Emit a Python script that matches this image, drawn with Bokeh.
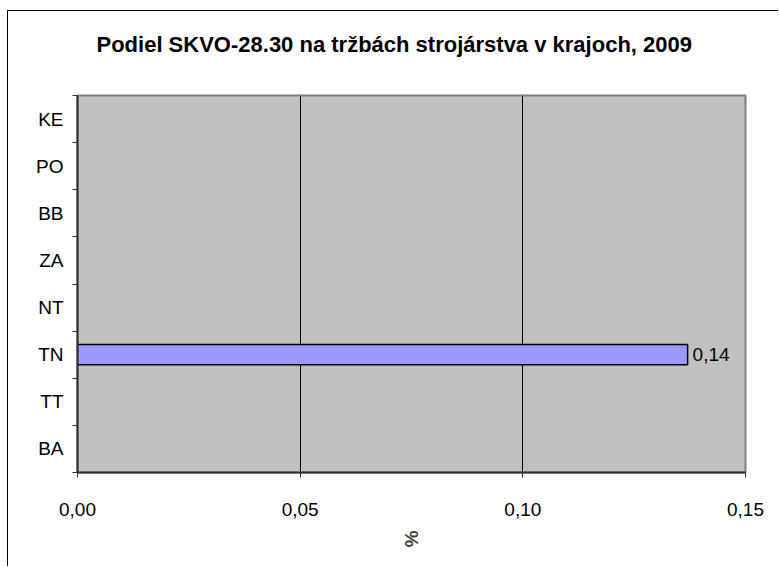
from bokeh.plotting import figure
from bokeh.models import ColumnDataSource, FixedTicker, LabelSet, Title
from bokeh.core.properties import value
from bokeh.embed import file_html
from bokeh.resources import INLINE

# ---- data ----
regions = ["BA", "TT", "TN", "NT", "ZA", "BB", "PO", "KE"]
shares = [0.0, 0.0, 0.137, 0.0, 0.0, 0.0, 0.0, 0.0]
x_ticks = [0.0, 0.05, 0.10, 0.15]
x_tick_labels = ["0,00", "0,05", "0,10", "0,15"]
title_text = "Podiel SKVO-28.30 na tržbách strojárstva v krajoch, 2009"
x_label = "%"

ypos = [i + 0.5 for i in range(len(regions))]
bars = ColumnDataSource(dict(
    y=[y for y, v in zip(ypos, shares) if v > 0],
    v=[v for v in shares if v > 0],
    lab=[("%.2f" % v).replace(".", ",") for v in shares if v > 0],
))

FONT = "Liberation Sans"

p = figure(
    output_backend="svg", toolbar_location=None,
    frame_width=668, frame_height=377,
    min_border_left=69, min_border_right=33,
    min_border_top=84, min_border_bottom=94,
    x_range=(x_ticks[0], x_ticks[-1]), y_range=(0, len(regions)),
    background_fill_color="#C0C0C0", border_fill_color="white",
    outline_line_color="#808080", outline_line_width=2,
)
p.styles = {"margin-left": "7px", "margin-top": "10px",
            "border-left": "1px solid black", "border-top": "1px solid black"}

# spacer between title and plot frame (closest to frame)
spacer = Title(text=" ", text_font_size="1px", standoff=36)
p.add_layout(spacer, "above")
t = Title(text=title_text, align="left", offset=19, text_font=FONT,
          text_font_size="22px", text_font_style="bold", text_color="black",
          standoff=0)
p.add_layout(t, "above")

p.hbar(y="y", right="v", left=0, height=0.43, source=bars,
       fill_color="#9999FF", line_color="black", line_width=1.5)

p.add_layout(LabelSet(x="v", y="y", text="lab", source=bars, x_offset=5,
                      text_baseline="middle", text_font=value(FONT),
                      text_font_size="19px", text_color="black"))

# grid
p.ygrid.grid_line_color = None
p.xgrid.ticker = FixedTicker(ticks=x_ticks)
p.xgrid.grid_line_color = "black"
p.xgrid.grid_line_width = 1

# x axis
p.xaxis.ticker = FixedTicker(ticks=x_ticks)
p.xaxis.major_label_overrides = {k: v for k, v in zip(x_ticks, x_tick_labels)}
p.xaxis.axis_label = x_label
p.xaxis.axis_label_orientation = "vertical"
p.xaxis.axis_label_text_font = FONT
p.xaxis.axis_label_text_font_size = "19px"
p.xaxis.axis_label_text_font_style = "bold"
p.xaxis.axis_label_standoff = 12
p.xaxis.major_label_text_font = FONT
p.xaxis.major_label_text_font_size = "19px"
p.xaxis.major_label_text_color = "black"
p.xaxis.major_label_standoff = 25
p.xaxis.major_tick_out = 5
p.xaxis.major_tick_in = 0
p.xaxis.minor_tick_line_color = None
p.xaxis.axis_line_color = "#303030"
p.xaxis.axis_line_width = 2
p.xaxis.major_tick_line_color = "#303030"

# y axis
p.yaxis.ticker = FixedTicker(ticks=ypos, minor_ticks=list(range(len(regions) + 1)))
p.yaxis.major_label_overrides = {k: v for k, v in zip(ypos, regions)}
p.yaxis.major_tick_line_color = None
p.yaxis.major_tick_out = 6
p.yaxis.minor_tick_out = 5
p.yaxis.minor_tick_in = 0
p.yaxis.minor_tick_line_color = "#303030"
p.yaxis.major_label_text_font = FONT
p.yaxis.major_label_text_font_size = "19px"
p.yaxis.major_label_text_color = "black"
p.yaxis.major_label_standoff = 8
p.yaxis.axis_line_color = "#303030"
p.yaxis.axis_line_width = 2

open("out.html", "w").write(file_html(p, INLINE))
